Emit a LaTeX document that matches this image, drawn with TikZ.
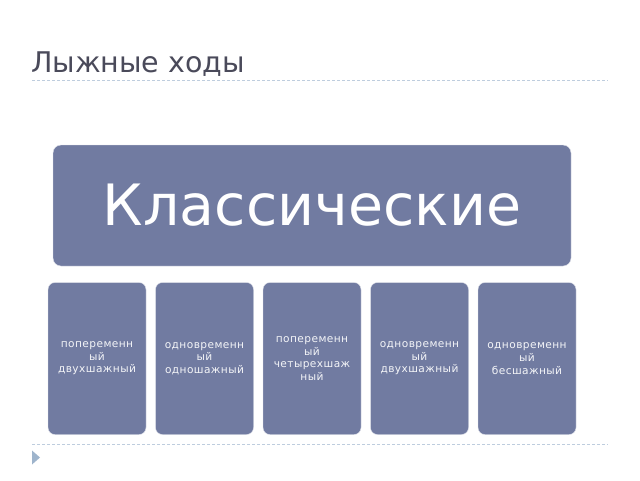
\documentclass[tikz,border=0pt]{standalone}
\usepackage{fontspec}
\setmainfont{DejaVu Sans}
\newfontfamily\spacedfont[LetterSpace=4]{DejaVu Sans}
\usepackage{tikz}
\usetikzlibrary{positioning}
\usepackage{xcolor}
\definecolor{boxblue}{RGB}{113,123,161}
\definecolor{sepblue}{RGB}{190,205,222}
\definecolor{titlegray}{RGB}{74,74,90}
\definecolor{markblue}{RGB}{158,180,204}

\begin{document}
\begin{tikzpicture}[x=1pt,y=-1pt,
  topbox/.style={fill=boxblue, draw=white!80!boxblue, rounded corners=8pt,
    minimum width=518pt, minimum height=121pt, inner sep=0pt,
    text=white, font=\fontsize{57}{60}\selectfont},
  subbox/.style={fill=boxblue, draw=white!80!boxblue, rounded corners=7pt,
    minimum width=98pt, minimum height=152pt, inner sep=0pt, align=center,
    text=white!92!boxblue, font=\spacedfont\fontsize{10.6}{12.6}\selectfont},
  sepline/.style={sepblue, line width=1pt, dash pattern=on 3pt off 2pt}]
\useasboundingbox (0,0) rectangle (640,480);
\fill[white] (0,0) rectangle (640,480);
\node[anchor=base west, inner sep=0pt, text=titlegray,
  font=\fontsize{28.5}{30}\selectfont] (title) at (31,72) {Лыжные ходы};
\draw[sepline] (32,80)--(608,80);
\node[topbox] (klass) at (312,205.5) {Классические};
\node[subbox] (s1) at (97,358.5) {попеременн\\ый\\двухшажный};
\node[subbox] (s2) at (204.5,358.5) {одновременн\\ый\\одношажный};
\node[subbox] (s3) at (312,358.5) {попеременн\\ый\\четырехшаж\\ный};
\node[subbox] (s4) at (419.5,358.5) {одновременн\\ый\\двухшажный};
\node[subbox] (s5) at (527,358.5) {одновременн\\ый\\бесшажный};
\draw[sepline] (32,444)--(608,444);
\fill[markblue] (32,450.5)--(40,457.5)--(32,464.5)--cycle;
\end{tikzpicture}
\end{document}
